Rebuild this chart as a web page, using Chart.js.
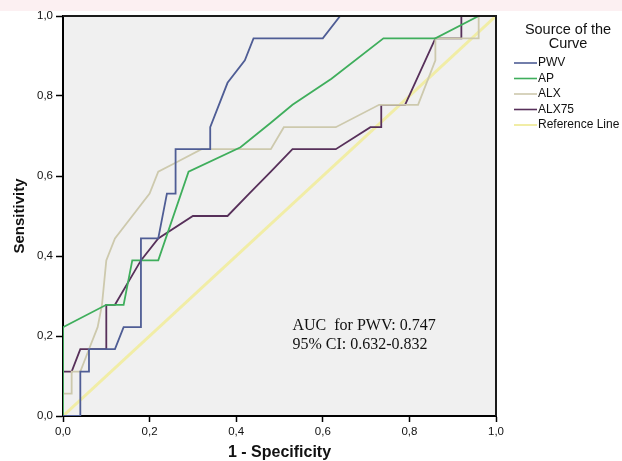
<!DOCTYPE html>
<html>
<head>
<meta charset="utf-8">
<script src="https://cdn.jsdelivr.net/npm/chart.js@4.4.1/dist/chart.umd.min.js"></script>
<style>
  html, body { margin: 0; padding: 0; background: #fff; }
  #wrap { position: relative; width: 622px; height: 461px; }
  #band { position: absolute; left: 0; top: 0; width: 622px; height: 11px; background: #fcf0f2; }
  #rocChart { position: absolute; left: 0; top: 0; }
</style>
</head>
<body>
<div id="wrap">
  <div id="band"></div>
  <canvas id="rocChart" width="622" height="461"></canvas>
</div>
<script>
// ROC curves: 1 - specificity (x) and sensitivity (y)
const pwvX = [0, 0.04, 0.04, 0.06, 0.06, 0.12, 0.14, 0.18, 0.18, 0.22, 0.24, 0.26, 0.26, 0.34, 0.34, 0.38, 0.42, 0.44, 0.6, 0.64, 1];
const pwvY = [0, 0, 0.111, 0.111, 0.167, 0.167, 0.222, 0.222, 0.444, 0.444, 0.556, 0.556, 0.667, 0.667, 0.722, 0.833, 0.889, 0.944, 0.944, 1, 1];

const apX = [0, 0, 0.1, 0.14, 0.16, 0.22, 0.29, 0.41, 0.48, 0.53, 0.62, 0.74, 0.86, 0.96, 1];
const apY = [0, 0.222, 0.278, 0.278, 0.389, 0.389, 0.611, 0.672, 0.733, 0.778, 0.843, 0.944, 0.944, 1, 1];

const alxX = [0, 0, 0.02, 0.02, 0.04, 0.06, 0.08, 0.09, 0.1, 0.12, 0.16, 0.2, 0.22, 0.26, 0.32, 0.48, 0.51, 0.63, 0.73, 0.82, 0.86, 0.86, 0.96, 0.96, 1];
const alxY = [0, 0.056, 0.056, 0.111, 0.111, 0.167, 0.222, 0.278, 0.389, 0.444, 0.5, 0.556, 0.611, 0.633, 0.667, 0.667, 0.722, 0.722, 0.778, 0.778, 0.889, 0.944, 0.944, 1, 1];

const alx75X = [0, 0, 0.02, 0.04, 0.1, 0.1, 0.12, 0.18, 0.22, 0.3, 0.38, 0.43, 0.48, 0.53, 0.63, 0.71, 0.735, 0.735, 0.79, 0.86, 0.92, 0.92, 1];
const alx75Y = [0, 0.111, 0.111, 0.167, 0.167, 0.278, 0.278, 0.389, 0.444, 0.5, 0.5, 0.556, 0.611, 0.667, 0.667, 0.722, 0.722, 0.778, 0.778, 0.944, 0.944, 1, 1];

const refX = [0, 1];
const refY = [0, 1];

const seriesNames = ['PWV', 'AP', 'ALX', 'ALX75', 'Reference Line'];
const seriesColors = ['#4f5d95', '#3fae5c', '#cdc9ad', '#57305a', '#f1eda6'];
const seriesWidths = [1.8, 1.8, 1.8, 1.8, 3];

const xTicks = [0, 0.2, 0.4, 0.6, 0.8, 1];
const yTicks = [0, 0.2, 0.4, 0.6, 0.8, 1];

const legendTitle = ['Source of the', 'Curve'];
const aucText = ['AUC  for PWV: 0.747', '95% CI: 0.632-0.832'];

const toPoints = (xs, ys) => xs.map((x, i) => ({ x: x, y: ys[i] }));
const allSeries = [
  toPoints(pwvX, pwvY),
  toPoints(apX, apY),
  toPoints(alxX, alxY),
  toPoints(alx75X, alx75Y),
  toPoints(refX, refY)
];

const comma = v => v.toFixed(1).replace('.', ',');

// plot background + top/right frame
const frame = {
  id: 'frame',
  beforeDraw(chart) {
    const { ctx, chartArea: a } = chart;
    ctx.save();
    ctx.fillStyle = '#f0f0f0';
    ctx.fillRect(a.left, a.top, a.right - a.left, a.bottom - a.top);
    ctx.restore();
  },
  afterDatasetsDraw(chart) {
    const { ctx, chartArea: a } = chart;
    ctx.save();
    ctx.strokeStyle = '#1a1a1a';
    ctx.lineWidth = 2;
    ctx.beginPath();
    ctx.moveTo(a.left, a.top);
    ctx.lineTo(a.right, a.top);
    ctx.lineTo(a.right, a.bottom);
    ctx.stroke();
    ctx.restore();
  }
};

// AUC note and SPSS style legend
const extras = {
  id: 'extras',
  afterDraw(chart) {
    const { ctx, scales } = chart;
    ctx.save();
    ctx.fillStyle = '#111';
    ctx.font = '16px "Liberation Serif"';
    ctx.textBaseline = 'alphabetic';
    ctx.textAlign = 'left';
    const tx = scales.x.getPixelForValue(0.53);
    aucText.forEach((t, i) => ctx.fillText(t, tx, scales.y.getPixelForValue(0.215) + i * 19));

    ctx.textAlign = 'center';
    ctx.textBaseline = 'middle';
    ctx.font = '14.5px "Liberation Sans"';
    legendTitle.forEach((t, i) => ctx.fillText(t, 568, 30 + i * 14));

    ctx.textAlign = 'left';
    ctx.font = '12px "Liberation Sans"';
    chart.data.datasets.forEach((ds, i) => {
      const y = 63 + i * 15.5;
      ctx.strokeStyle = ds.borderColor;
      ctx.lineWidth = i === 4 ? 2 : 1.6;
      ctx.beginPath();
      ctx.moveTo(514, y);
      ctx.lineTo(537, y);
      ctx.stroke();
      ctx.fillStyle = '#111';
      ctx.fillText(ds.label, 538, y);
    });
    ctx.restore();
  }
};

new Chart(document.getElementById('rocChart'), {
  type: 'scatter',
  data: {
    datasets: allSeries.map((pts, i) => ({
      label: seriesNames[i],
      data: pts,
      showLine: true,
      borderColor: seriesColors[i],
      backgroundColor: seriesColors[i],
      borderWidth: seriesWidths[i],
      pointRadius: 0,
      tension: 0
    }))
  },
  options: {
    responsive: false,
    animation: false,
    layout: { padding: { top: 16, right: 126, left: 0, bottom: 0 } },
    plugins: { legend: { display: false }, tooltip: { enabled: false } },
    scales: {
      x: {
        type: 'linear',
        min: 0,
        max: 1,
        afterBuildTicks: s => { s.ticks = xTicks.map(v => ({ value: v })); },
        afterFit: s => { s.height = 45; },
        ticks: { callback: comma, font: { family: 'Liberation Sans', size: 11.5 }, color: '#111', padding: 3, maxRotation: 0 },
        grid: { drawOnChartArea: false, drawTicks: true, tickLength: 6, tickColor: '#000', tickWidth: 1.5 },
        border: { color: '#000', width: 2 },
        title: { display: true, text: '1 - Specificity', color: '#111', font: { family: 'Liberation Sans', size: 16, weight: 'bold', lineHeight: 1 }, padding: 0 }
      },
      y: {
        type: 'linear',
        min: 0,
        max: 1,
        afterBuildTicks: s => { s.ticks = yTicks.map(v => ({ value: v })); },
        afterFit: s => { s.width = 63; },
        ticks: { callback: comma, font: { family: 'Liberation Sans', size: 11.5 }, color: '#111', padding: 3 },
        grid: { drawOnChartArea: false, drawTicks: true, tickLength: 7, tickColor: '#000', tickWidth: 1.5 },
        border: { color: '#000', width: 2 },
        title: { display: true, text: 'Sensitivity', color: '#111', font: { family: 'Liberation Sans', size: 15, weight: 'bold', lineHeight: 1 }, padding: { top: 12, bottom: 0 } }
      }
    }
  },
  plugins: [frame, extras]
});
</script>
</body>
</html>
